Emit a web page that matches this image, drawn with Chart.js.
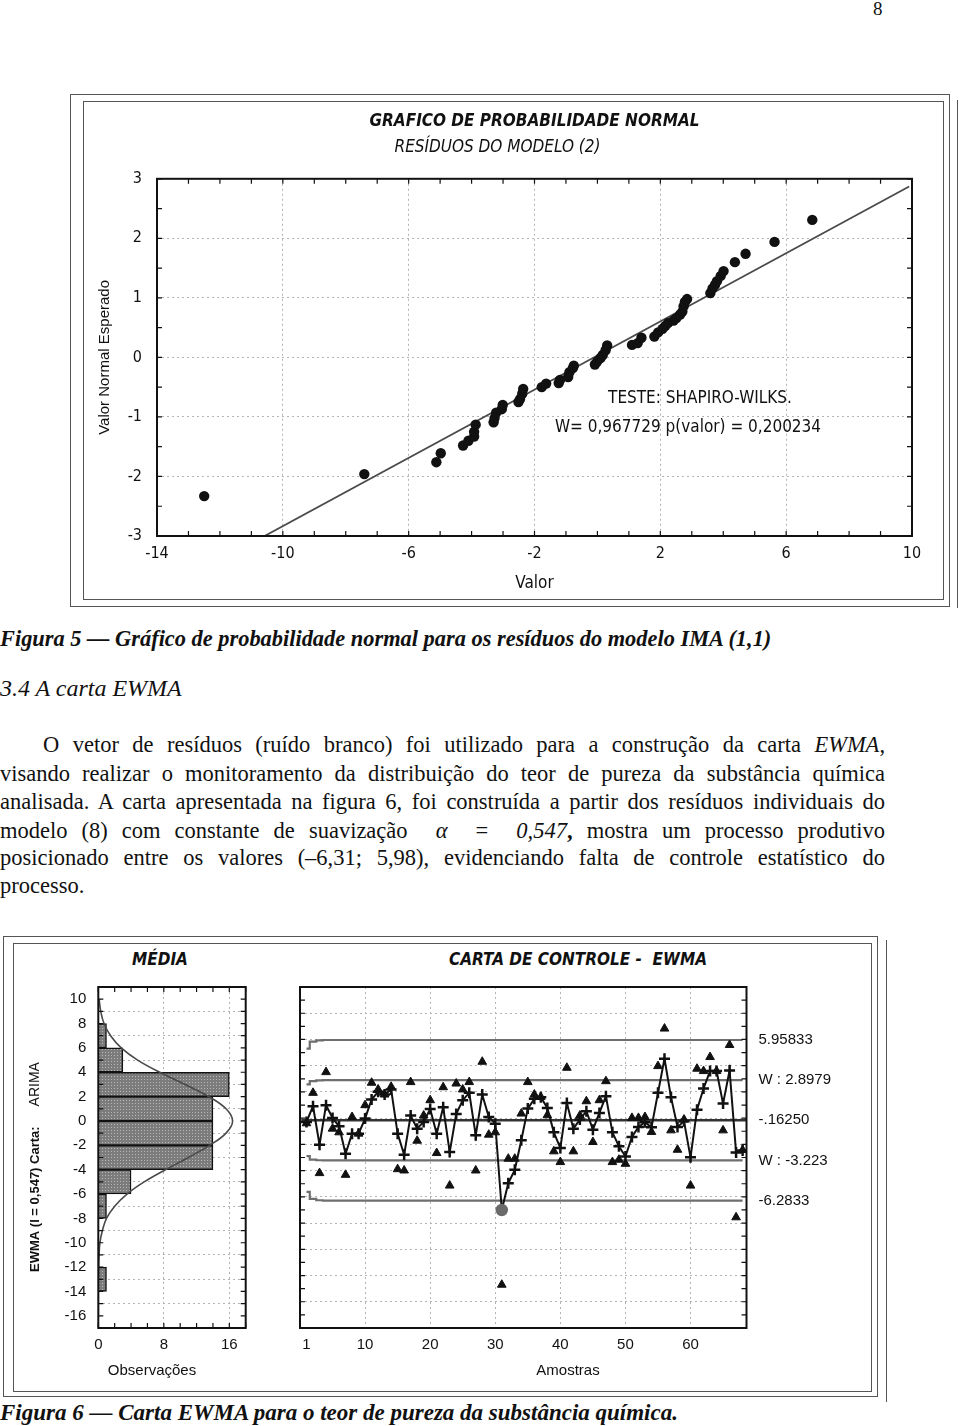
<!DOCTYPE html>
<html lang="pt-br">
<head>
<meta charset="UTF-8">
<title>Carta EWMA</title>
<script src="https://cdn.jsdelivr.net/npm/chart.js"></script>
<style>
    body { margin: 0; background: #fff; }
    #pagina { position: relative; width: 960px; height: 1426px; overflow: hidden;
              font-family: "Liberation Serif", "Times New Roman", serif; color: #111; }
    .abs { position: absolute; }
    .moldura { position: absolute; box-sizing: border-box; border: 1.5px solid #555; }
    .linha { position: absolute; left: 0; width: 885px; height: 28px; line-height: 28px;
             font-size: 22.5px; text-align: justify; text-align-last: justify; white-space: nowrap; }
    .legenda { font-size: 22.4px; font-weight: bold; font-style: italic; white-space: nowrap; }
    .cab { font-family: "Liberation Sans Narrow", "DejaVu Sans Condensed", sans-serif; font-size: 17px;
           font-weight: bold; font-style: italic; text-align: center; }
    .eixo { font-family: "Liberation Sans", Arial, sans-serif; font-size: 15px; text-align: center; }
    canvas { position: absolute; }
</style>
</head>
<body>
<div id="pagina">
    <div class="abs" style="left:873px; top:-2px; font-size:19px;">8</div>

    <!-- Figura 5 -->
    <div class="moldura" style="left:70px; top:94px; width:880px; height:513px;"></div>
    <div class="moldura" style="left:83px; top:101px; width:861px; height:499px;"></div>
    <div class="abs" style="left:957px; top:100px; width:1px; height:508px; background:#555;"></div>
    <canvas id="normal" width="861" height="499" style="left:83px; top:101px;"></canvas>

    <div class="abs legenda" style="left:0; top:626px;">Figura 5 — Gráfico de probabilidade normal para os resíduos do modelo IMA (1,1)</div>
    <div class="abs" style="left:0; top:675px; font-size:24px; font-style:italic;">3.4 A carta EWMA</div>

    <div class="linha" style="top:731px; left:43px; width:842px;">O vetor de resíduos (ruído branco) foi utilizado para a construção da carta <i>EWMA</i>,</div>
    <div class="linha" style="top:760px;">visando realizar o monitoramento da distribuição do teor de pureza da substância química</div>
    <div class="linha" style="top:788px;">analisada. A carta apresentada na figura 6, foi construída a partir dos resíduos individuais do</div>
    <div class="linha" style="top:817px;">modelo (8) com constante de suavização &nbsp;<i>α</i> &nbsp;= &nbsp;<i>0,547</i><b>,</b> mostra um processo produtivo</div>
    <div class="linha" style="top:844px;">posicionado entre os valores (–6,31; 5,98), evidenciando falta de controle estatístico do</div>
    <div class="linha" style="top:872px; text-align:left; text-align-last:left;">processo.</div>

    <!-- Figura 6 -->
    <div class="moldura" style="left:3px; top:936px; width:875px; height:461px;"></div>
    <div class="moldura" style="left:13px; top:943px; width:859px; height:449px;"></div>
    <div class="abs" style="left:886px; top:940px; width:1px; height:462px; background:#555;"></div>
    <div class="abs cab" style="left:110px; top:949px; width:100px;">MÉDIA</div>
    <div class="abs cab" style="left:428px; top:949px; width:300px;">CARTA DE CONTROLE - &nbsp;EWMA</div>
    <canvas id="media" width="260" height="449" style="left:14px; top:943px;"></canvas>
    <canvas id="ewma" width="602" height="449" style="left:270px; top:943px;"></canvas>
    <div class="abs eixo" style="left:92px; top:1361px; width:120px;">Observações</div>
    <div class="abs eixo" style="left:508px; top:1361px; width:120px;">Amostras</div>

    <div class="abs legenda" style="left:0; top:1400px; font-size:23px;">Figura 6 — Carta EWMA para o teor de pureza da substância química.</div>
</div>

<script>
    // ---- Gráfico de probabilidade normal ----
    const ticksValor = [-14, -10, -6, -2, 2, 6, 10];
    const ticksEsperado = [-3, -2, -1, 0, 1, 2, 3];
    const residuos = [-12.50, -7.41, -5.12, -4.98, -4.27, -4.10, -3.92, -3.92, -3.87, -3.30, -3.27, -3.22, -3.04, -3.01,
        -2.51, -2.46, -2.39, -2.36, -1.77, -1.63, -1.23, -1.19, -0.93, -0.89, -0.78, -0.75, -0.08, -0.01, 0.10, 0.17,
        0.26, 0.31, 1.10, 1.28, 1.40, 1.81, 1.93, 2.07, 2.16, 2.25, 2.42, 2.51, 2.63, 2.70, 2.74, 2.78, 2.85, 3.59,
        3.66, 3.74, 3.80, 3.92, 4.01, 4.37, 4.71, 5.63, 6.83];
    const esperado = [-2.33, -1.96, -1.76, -1.61, -1.48, -1.40, -1.33, -1.25, -1.13, -1.09, -1.02, -0.93, -0.87, -0.80,
        -0.75, -0.70, -0.61, -0.53, -0.50, -0.44, -0.43, -0.38, -0.33, -0.25, -0.18, -0.14, -0.12, -0.07, -0.01, 0.04,
        0.12, 0.20, 0.21, 0.24, 0.33, 0.35, 0.42, 0.48, 0.53, 0.58, 0.62, 0.66, 0.72, 0.77, 0.86, 0.93, 0.98, 1.08,
        1.16, 1.22, 1.28, 1.37, 1.45, 1.60, 1.74, 1.94, 2.31];
    const retaX = [-10.58, 9.91];
    const retaY = [-3, 2.87];

    // ---- Histograma (MÉDIA) ----
    const ticksMedia = [10, 8, 6, 4, 2, 0, -2, -4, -6, -8, -10, -12, -14, -16];
    const ticksObs = [0, 8, 16];
    const classes = [7, 5, 3, 1, -1, -3, -5, -7, -13];
    const frequencias = [1, 3, 16, 14, 14, 14, 4, 1, 1];
    const curvaY = [10, 9, 8, 7, 6, 5, 4, 3, 2, 1, 0, -1, -2, -3, -4, -5, -6, -7, -8, -9, -10, -11, -12, -14, -16];
    const curvaObs = [0.1, 0.3, 0.7, 1.5, 2.8, 4.8, 7.5, 10.6, 13.5, 15.6, 16.4, 15.6, 13.6, 11.0, 8.2, 5.6, 3.5,
        2.0, 1.0, 0.5, 0.2, 0.1, 0.05, 0, 0];

    // ---- Carta EWMA ----
    const ticksAmostras = [1, 10, 20, 30, 40, 50, 60];
    const ewma = [-0.29, 0.91, -2.02, 0.99, 0.02, -0.62, -2.71, -1.18, -1.18, -0.03,
        1.42, 2.01, 1.80, 2.19, -1.18, -2.79, 0.20, -0.80, -0.29, 0.70,
        -1.18, 0.83, -2.59, 0.32, 1.37, 1.93, -1.31, 1.80, 0.09, -0.42,
        -7.00, -4.96, -3.94, -1.69, 0.73, 1.47, 1.60, 0.78, -1.08, -2.28,
        1.16, -0.80, -0.11, 0.53, -0.88, 0.40, 1.67, -1.08, -2.15, -2.92,
        -1.44, -0.67, -0.31, -0.70, 1.93, 4.53, 1.60, -0.67, -0.24, -2.99,
        0.65, 2.26, 3.59, 3.59, 1.11, 3.64, -2.61, -2.46];
    const observacoes = [-0.39, 1.93, -4.19, 3.51, -0.80, -1.08, -4.32, 0.09, -1.18, 0.99,
        2.70, 2.19, 1.80, 2.39, -3.89, -3.99, 2.75, -1.72, 0.20, 1.37,
        -2.66, 2.36, -5.14, 2.64, 2.19, 2.75, -3.99, 4.30, -1.26, -1.08,
        -12.7, -3.09, -3.09, 0.35, 2.75, 1.80, 1.62, 0.22, -2.53, -3.35,
        3.84, -2.53, 0.20, 1.29, -1.82, 1.37, 2.82, -3.35, -3.17, -3.48,
        0.02, 0.02, 0.09, -1.05, 3.97, 6.83, -0.93, -2.41, -0.11, -5.14,
        3.77, 3.59, 4.66, 3.59, -0.93, 5.58, -7.56, -2.43];
    const amostras = ewma.map((_, i) => i + 1);
    const limX = [1, 2, 3, 4, 68];
    const lsc = [5.30, 5.83, 5.93, 5.958, 5.958];
    const lsa = [2.57, 2.83, 2.88, 2.898, 2.898];
    const lia = [-2.89, -3.16, -3.21, -3.223, -3.223];
    const lic = [-5.62, -6.15, -6.26, -6.283, -6.283];
    const centroX = [0.2, 68.6];
    const centro = [-0.1625, -0.1625];
    const rotulosLim = ['5.95833', 'W : 2.8979', '-.16250', 'W : -3.223', '-6.2833'];
    const valoresLim = [5.958, 2.8979, -0.1625, -3.223, -6.2833];

    const estreita = '"Liberation Sans Narrow", "DejaVu Sans Condensed", "Liberation Sans", sans-serif';
    const arial = '"Liberation Sans", Arial, sans-serif';
    Chart.defaults.color = '#111';
    Chart.defaults.font.family = arial;

    const pares = (xs, ys) => xs.map((x, i) => ({ x: x, y: ys[i] }));
    const fixaTicks = lista => s => { s.ticks = lista.map(v => ({ value: v })); };
    const grade = { color: '#b4b4b4', lineWidth: 1, drawTicks: false };
    const borda = { display: false, dash: [2, 3] };

    // tracinhos internos nas bordas + moldura da área do gráfico
    const tracos = {
        id: 'tracos',
        afterDatasetsDraw(chart, args, o) {
            const { ctx, chartArea: a, scales: { x, y } } = chart;
            ctx.save();
            ctx.strokeStyle = '#111';
            ctx.lineWidth = 1.2;
            ctx.beginPath();
            if (o.passoX) {
                for (let v = x.min; v <= x.max + 1e-6; v += o.passoX) {
                    const p = x.getPixelForValue(v);
                    ctx.moveTo(p, a.top); ctx.lineTo(p, a.top + o.tam);
                    ctx.moveTo(p, a.bottom); ctx.lineTo(p, a.bottom - o.tam);
                }
            }
            if (o.passoY) {
                for (let v = y.min; v <= y.max + 1e-6; v += o.passoY) {
                    const p = y.getPixelForValue(v);
                    ctx.moveTo(a.left, p); ctx.lineTo(a.left + o.tam, p);
                    ctx.moveTo(a.right, p); ctx.lineTo(a.right - o.tam, p);
                }
            }
            ctx.stroke();
            ctx.lineWidth = 2;
            ctx.strokeRect(a.left, a.top, a.right - a.left, a.bottom - a.top);
            ctx.restore();
        }
    };

    // textos ancorados em coordenadas dos dados
    const notas = {
        id: 'notas',
        afterDraw(chart, args, o) {
            const { ctx, scales: { x, y } } = chart;
            ctx.save();
            ctx.font = o.fonte;
            ctx.fillStyle = '#111';
            ctx.textAlign = 'center';
            ctx.textBaseline = 'middle';
            o.itens.forEach(it => ctx.fillText(it.texto, x.getPixelForValue(it.x), y.getPixelForValue(it.y)));
            ctx.restore();
        }
    };

    // rótulos dos limites à direita da carta
    const rotulos = {
        id: 'rotulos',
        afterDraw(chart) {
            const { ctx, chartArea: a, scales: { y } } = chart;
            ctx.save();
            ctx.font = '15px ' + arial;
            ctx.fillStyle = '#111';
            ctx.textAlign = 'left';
            ctx.textBaseline = 'middle';
            rotulosLim.forEach((t, i) => ctx.fillText(t, a.right + 12, y.getPixelForValue(valoresLim[i])));
            ctx.restore();
        }
    };

    // título vertical com parte em negrito
    const tituloVertical = {
        id: 'tituloVertical',
        afterDraw(chart, args, o) {
            const ctx = chart.ctx;
            ctx.save();
            ctx.translate(o.x, o.y);
            ctx.rotate(-Math.PI / 2);
            ctx.fillStyle = '#111';
            ctx.textBaseline = 'middle';
            ctx.font = 'bold 13px ' + arial;
            const w1 = ctx.measureText(o.negrito).width;
            ctx.font = '14px ' + arial;
            const w2 = ctx.measureText(o.normal).width;
            const x0 = -(w1 + o.espaco + w2) / 2;
            ctx.font = 'bold 13px ' + arial;
            ctx.fillText(o.negrito, x0, 0);
            ctx.font = '14px ' + arial;
            ctx.fillText(o.normal, x0 + w1 + o.espaco, 0);
            ctx.restore();
        }
    };

    // Figura 5
    new Chart(document.getElementById('normal'), {
        type: 'scatter',
        data: {
            datasets: [{
                data: pares(residuos, esperado),
                pointRadius: 5.2,
                pointBackgroundColor: '#111',
                pointBorderColor: '#111',
                pointBorderWidth: 0
            }, {
                type: 'line',
                data: pares(retaX, retaY),
                borderColor: '#4a4a4a',
                borderWidth: 1.8,
                pointRadius: 0,
                fill: false
            }]
        },
        options: {
            responsive: false, animation: false, devicePixelRatio: 1,
            layout: { padding: { left: 0, right: 32, top: 0, bottom: 0 } },
            plugins: {
                legend: { display: false },
                tooltip: { enabled: false },
                title: {
                    display: true, fullSize: false, color: '#111',
                    text: 'GRAFICO DE PROBABILIDADE NORMAL',
                    font: { family: estreita, size: 17, weight: 'bold', style: 'italic' },
                    padding: { top: 10, bottom: 6 }
                },
                subtitle: {
                    display: true, color: '#111',
                    text: 'RESÍDUOS DO MODELO (2)',
                    font: { family: estreita, size: 17, style: 'italic' },
                    padding: { top: 0, bottom: 21 }
                },
                tracos: { passoX: 1, passoY: 0.5, tam: 5 },
                notas: {
                    fonte: '17px ' + estreita,
                    itens: [
                        { texto: 'TESTE: SHAPIRO-WILKS.', x: 3.26, y: -0.69 },
                        { texto: 'W= 0,967729 p(valor) = 0,200234', x: 2.88, y: -1.18 }
                    ]
                }
            },
            scales: {
                x: {
                    type: 'linear', min: -14, max: 10,
                    afterBuildTicks: fixaTicks(ticksValor),
                    afterFit: s => { s.height = 64; },
                    grid: grade, border: borda,
                    ticks: { padding: 8, maxRotation: 0, autoSkip: false, font: { family: estreita, size: 16 } },
                    title: { display: true, text: 'Valor', font: { family: estreita, size: 17 }, padding: { top: 0, bottom: 6 } }
                },
                y: {
                    type: 'linear', min: -3, max: 3,
                    afterBuildTicks: fixaTicks(ticksEsperado),
                    afterFit: s => { s.width = 74; },
                    grid: grade, border: borda,
                    ticks: { padding: 15, autoSkip: false, font: { family: estreita, size: 16 } },
                    title: { display: true, text: 'Valor Normal Esperado', font: { family: arial, size: 15 }, padding: { top: 13, bottom: 0 } }
                }
            }
        },
        plugins: [tracos, notas]
    });

    // Figura 6 - histograma
    const telaMedia = document.getElementById('media');
    const ladrilho = document.createElement('canvas');
    ladrilho.width = 3; ladrilho.height = 3;
    const lc = ladrilho.getContext('2d');
    lc.fillStyle = '#7c7c7c'; lc.fillRect(0, 0, 3, 3);
    lc.fillStyle = '#b8b8b8'; lc.fillRect(1, 1, 1, 1);
    const textura = telaMedia.getContext('2d').createPattern(ladrilho, 'repeat');

    new Chart(telaMedia, {
        type: 'bar',
        data: {
            datasets: [{
                type: 'line',
                data: pares(curvaObs, curvaY),
                borderColor: '#4a4a4a',
                borderWidth: 1.6,
                pointRadius: 0,
                tension: 0.4,
                fill: false
            }, {
                data: pares(frequencias, classes),
                backgroundColor: textura,
                borderColor: '#111',
                borderWidth: 1.5,
                barPercentage: 1,
                categoryPercentage: 1
            }]
        },
        options: {
            indexAxis: 'y',
            responsive: false, animation: false, devicePixelRatio: 1,
            layout: { padding: { left: 0, right: 28.3, top: 44, bottom: 0 } },
            plugins: {
                legend: { display: false },
                tooltip: { enabled: false },
                tracos: { passoX: 2, passoY: 1, tam: 5 },
                tituloVertical: { x: 21, y: 224, negrito: 'EWMA (l = 0,547) Carta:', normal: 'ARIMA', espaco: 20 }
            },
            scales: {
                x: {
                    type: 'linear', min: 0, max: 18,
                    afterBuildTicks: fixaTicks(ticksObs),
                    afterFit: s => { s.height = 64; },
                    grid: grade, border: borda,
                    ticks: { padding: 8, maxRotation: 0, autoSkip: false, font: { size: 15 } }
                },
                y: {
                    type: 'linear', min: -16, max: 10,
                    afterBuildTicks: fixaTicks(ticksMedia),
                    afterFit: s => { s.width = 84.3; },
                    grid: grade, border: borda,
                    ticks: { padding: 12, autoSkip: false, font: { size: 15 } }
                }
            }
        },
        plugins: [tracos, tituloVertical]
    });

    // Figura 6 - carta EWMA
    const foraDeControle = c => c.raw && c.raw.y < lic[lic.length - 1];
    const limite = (ys, cor, larg) => ({
        type: 'line', data: pares(limX, ys), borderColor: cor, borderWidth: larg,
        pointRadius: 0, stepped: 'middle', fill: false
    });

    new Chart(document.getElementById('ewma'), {
        type: 'scatter',
        data: {
            datasets: [{
                type: 'line',
                data: pares(amostras, ewma),
                borderColor: '#111',
                borderWidth: 2,
                tension: 0,
                fill: false,
                pointStyle: c => foraDeControle(c) ? 'circle' : 'cross',
                pointRadius: c => foraDeControle(c) ? 5 : 5.5,
                pointBackgroundColor: c => foraDeControle(c) ? '#6a6a6a' : '#111',
                pointBorderColor: c => foraDeControle(c) ? '#6a6a6a' : '#111',
                pointBorderWidth: 2.5
            }, {
                data: pares(amostras, observacoes),
                pointStyle: 'triangle',
                pointRadius: 5,
                pointBackgroundColor: '#111',
                pointBorderColor: '#111',
                pointBorderWidth: 1
            },
            { type: 'line', data: pares(centroX, centro), borderColor: '#333', borderWidth: 2.5, pointRadius: 0, fill: false },
            limite(lsc, '#6e6e6e', 2.2),
            limite(lsa, '#6e6e6e', 2.2),
            limite(lia, '#6e6e6e', 2.2),
            limite(lic, '#6e6e6e', 2.2)]
        },
        options: {
            responsive: false, animation: false, devicePixelRatio: 1,
            layout: { padding: { left: 0, right: 125.5, top: 44, bottom: 0 } },
            plugins: {
                legend: { display: false },
                tooltip: { enabled: false },
                tracos: { passoX: 0, passoY: 1, tam: 5 }
            },
            scales: {
                x: {
                    type: 'linear', min: 0, max: 68.6,
                    afterBuildTicks: fixaTicks(ticksAmostras),
                    afterFit: s => { s.height = 64; },
                    grid: { color: c => c.tick && c.tick.value === 1 ? 'rgba(0,0,0,0)' : '#b4b4b4', lineWidth: 1, drawTicks: false },
                    border: borda,
                    ticks: { padding: 8, maxRotation: 0, autoSkip: false, font: { size: 15 } }
                },
                y: {
                    type: 'linear', min: -16, max: 10,
                    afterBuildTicks: fixaTicks(ticksMedia),
                    afterFit: s => { s.width = 30; },
                    grid: grade, border: borda,
                    ticks: { display: false }
                }
            }
        },
        plugins: [tracos, rotulos]
    });
</script>
</body>
</html>
